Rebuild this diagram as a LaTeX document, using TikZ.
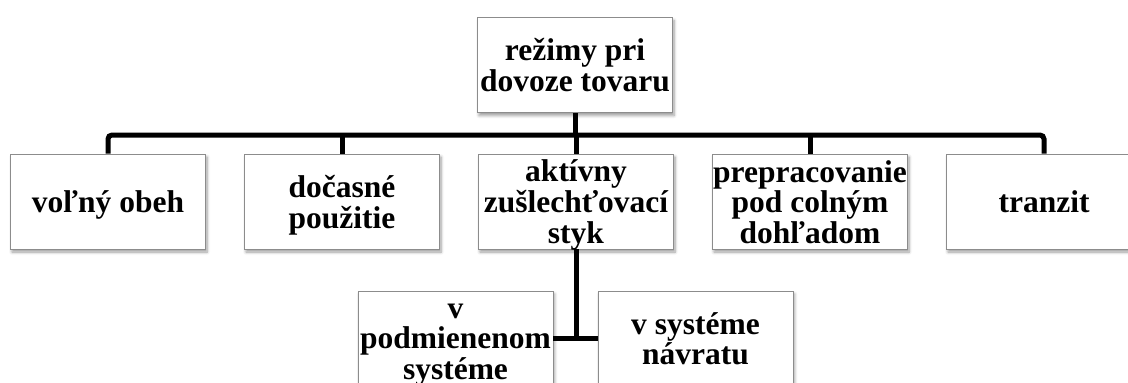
\documentclass[tikz,border=0pt]{standalone}
\usepackage{fontspec}
\setmainfont{Liberation Serif}
\usetikzlibrary{shadows.blur}
\newcommand\boxtext[1]{\raisebox{-4.5pt}[\height][\depth]{\begin{tabular}{@{}c@{}}#1\end{tabular}}}
\begin{document}
\begin{tikzpicture}[x=1pt,y=-1pt,
  box/.style={draw=black!45, line width=0.8pt, fill=white, minimum width=195pt, minimum height=95pt,
    inner sep=0pt, align=center, font=\bfseries\fontsize{31.5}{29}\selectfont,
    blur shadow={shadow xshift=1.5pt, shadow yshift=-3pt, shadow blur steps=6, shadow opacity=40, shadow blur radius=3pt}},
  conn/.style={line width=5pt, black}]
\useasboundingbox (0,0) rectangle (1128,383);
\node[box] (top) at (575,65) {\boxtext{režimy pri\\dovoze tovaru}};
\node[box] (a) at (108,201.5) {\boxtext{voľný obeh}};
\node[box] (b) at (342,201.5) {\boxtext{dočasné\\použitie}};
\node[box] (c) at (576,201.5) {\boxtext{aktívny\\zušlechťovací\\styk}};
\node[box] (d) at (810,201.5) {\boxtext{prepracovanie\\pod colným\\dohľadom}};
\node[box] (e) at (1044,201.5) {\boxtext{tranzit}};
\node[box] (f) at (455.5,338.5) {\boxtext{v\\podmienenom\\systéme}};
\node[box] (g) at (695.5,338.5) {\boxtext{v systéme\\návratu}};
\coordinate (bus) at (0,135);
\coordinate (jn) at (576,339);
\draw[conn, rounded corners=4pt] (a.north) |- (bus -| e.north) -- (e.north);
\draw[conn] (top.south) -- (top.south |- bus);
\draw[conn] (b.north) -- (b.north |- bus);
\draw[conn] (d.north) -- (d.north |- bus);
\draw[conn] (c.north) -- (c.north |- bus);
\draw[conn] (c.south) -- (jn);
\draw[conn] (f.east) -- (g.west);
\end{tikzpicture}
\end{document}
